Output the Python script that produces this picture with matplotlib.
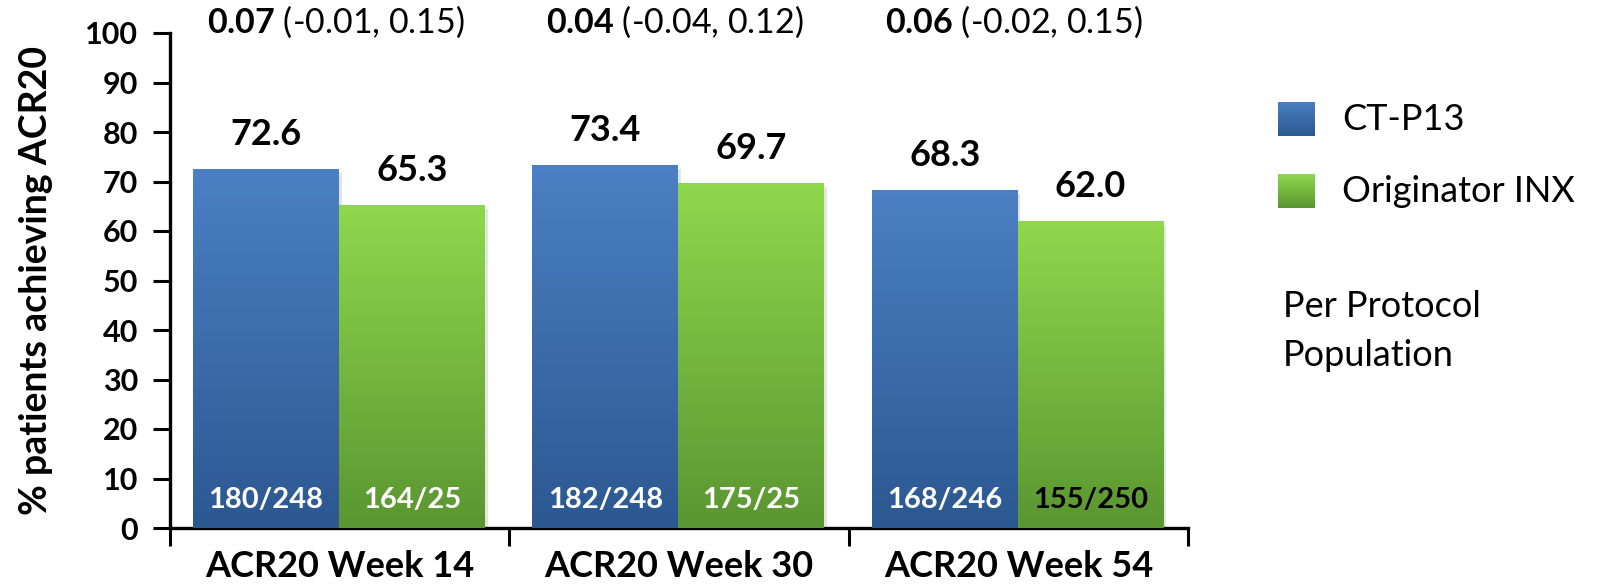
import numpy as np
import matplotlib
matplotlib.use('Agg')
import matplotlib.pyplot as plt
from matplotlib.colors import LinearSegmentedColormap
from matplotlib import patheffects as pe

plt.rcParams['font.family'] = ['Lato', 'DejaVu Sans']
plt.rcParams['mathtext.fontset'] = 'custom'
plt.rcParams['mathtext.rm'] = 'Lato'
plt.rcParams['mathtext.bf'] = 'Lato:bold'

# Data
categories = ['ACR20 Week 14', 'ACR20 Week 30', 'ACR20 Week 54']
ctp13 = [72.6, 73.4, 68.3]
originator = [65.3, 69.7, 62.0]
ctp13_counts = ['180/248', '182/248', '168/246']
originator_counts = ['164/25', '175/25', '155/250']
diff_est = ['0.07', '0.04', '0.06']
diff_ci = ['(-0.01, 0.15)', '(-0.04, 0.12)', '(-0.02, 0.15)']
series_names = ['CT-P13', 'Originator INX']

blue_grad = LinearSegmentedColormap.from_list('blue', ['#2c5890', '#4b80c4'])
green_grad = LinearSegmentedColormap.from_list('green', ['#5a9631', '#8fd84d'])
grad = np.linspace(0, 1, 256).reshape(-1, 1)

fig = plt.figure(figsize=(15.99, 5.85), dpi=100)
ax = fig.add_axes([170 / 1599, 57 / 585, 1018 / 1599, 495 / 585])

x = np.arange(len(categories))
w = 0.43
shadow = [pe.SimplePatchShadow(offset=(2, -3), alpha=0.12), pe.Normal()]
blue_bars = ax.bar(x - 0.217, ctp13, w, color='#3b6aa8', path_effects=shadow, zorder=2)
green_bars = ax.bar(x + 0.213, originator, w, color='#76b83f', path_effects=shadow, zorder=2)

# vertical gradient fill for each bar
for bars, cmap in [(blue_bars, blue_grad), (green_bars, green_grad)]:
    for b in bars:
        x0, y0 = b.get_x(), b.get_y()
        im = ax.imshow(grad, cmap=cmap, origin='lower', aspect='auto', zorder=3,
                       extent=(x0, x0 + b.get_width(), y0, y0 + b.get_height()))
        im.set_clip_path(b)

ax.set_xlim(-0.5, 2.5)
ax.set_ylim(0, 100)

# value labels above bars
for bars, vals in [(blue_bars, ctp13), (green_bars, originator)]:
    for b, v in zip(bars, vals):
        ax.annotate(f'{v:.1f}', (b.get_x() + b.get_width() / 2, v), xytext=(0, 17),
                    textcoords='offset points', ha='center', va='baseline',
                    fontsize=26, fontweight='bold', zorder=5)

# counts inside bars
count_colors = [['white'] * 3, ['white', 'white', 'black']]
for bars, counts, cols in [(blue_bars, ctp13_counts, count_colors[0]),
                           (green_bars, originator_counts, count_colors[1])]:
    for b, c, col in zip(bars, counts, cols):
        ax.text(b.get_x() + b.get_width() / 2, 4, c, ha='center', va='baseline',
                fontsize=21, fontweight='bold', color=col, zorder=5)

# difference estimates at the top
for i in range(len(categories)):
    ax.text(x[i] - 0.012, 100, r'$\mathbf{' + diff_est[i] + '}$ ' + diff_ci[i],
            ha='center', va='baseline', fontsize=24.5, clip_on=False, zorder=5)

for s in ['top', 'right']:
    ax.spines[s].set_visible(False)
for s in ['left', 'bottom']:
    ax.spines[s].set_linewidth(2.4)

ax.set_yticks(np.arange(0, 101, 10))
ax.tick_params(axis='y', length=12, width=2.2, pad=11, labelsize=22)
for lab in ax.get_yticklabels():
    lab.set_fontweight('bold')

ax.set_xticks([-0.5, 0.5, 1.5, 2.5])
ax.set_xticklabels([])
ax.tick_params(axis='x', which='major', length=13, width=2.2)
ax.set_xticks(x, minor=True)
ax.set_xticklabels(categories, minor=True, fontsize=26, fontweight='bold')
ax.tick_params(axis='x', which='minor', length=0, pad=16)

ax.set_ylabel('% patients achieving ACR20', fontsize=27, fontweight='bold')
ax.yaxis.set_label_coords(-0.115, 0.5)

# legend drawn by hand
legend_cmaps = [blue_grad, green_grad]
for k, (name, cmap) in enumerate(zip(series_names, legend_cmaps)):
    top = 102 + 72 * k
    lax = fig.add_axes([1278 / 1599, 1 - (top + 34) / 585, 37 / 1599, 34 / 585])
    lax.imshow(grad, cmap=cmap, origin='lower', aspect='auto')
    lax.axis('off')
    fig.text(1342 / 1599, 1 - (top + 18) / 585, name, fontsize=26, va='center', ha='left')

fig.text(1283 / 1599, 1 - 331 / 585, 'Per Protocol\nPopulation', fontsize=26,
         va='center', ha='left', linespacing=1.6)

fig.savefig('out.png', dpi=100)
